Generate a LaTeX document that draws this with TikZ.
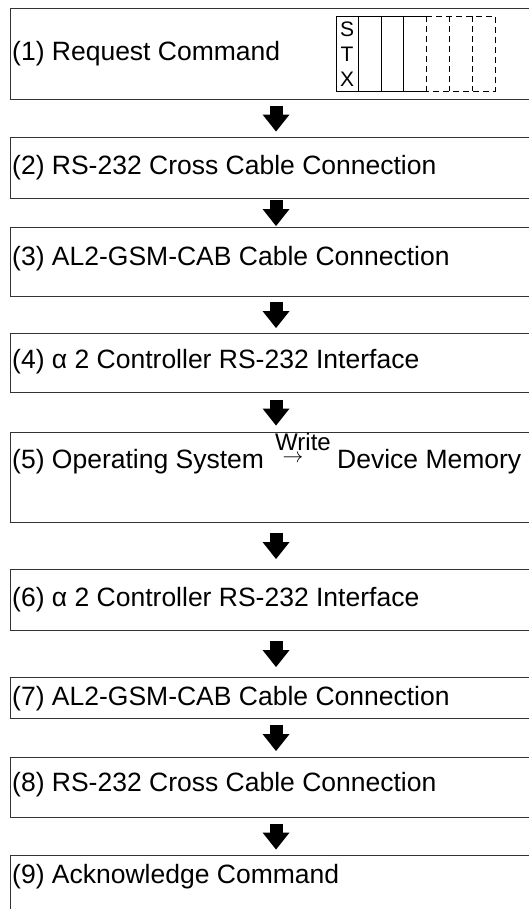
\documentclass[tikz,border=0pt]{standalone}
\usepackage{fontspec}
\setmainfont{Liberation Sans}
\usetikzlibrary{arrows.meta, positioning, calc}

\tikzset{
  stage/.style={draw=black!80, line width=1.1pt, anchor=north west,
                minimum width=540pt, inner sep=0pt},
  caption/.style={anchor=west, inner sep=0pt, font=\fontsize{26.5}{30}\selectfont},
  flow/.style={line width=13pt,
               -{Triangle[width=27pt, length=17pt, line width=0pt]}},
  cell/.style={line width=0.8pt},
  halfcell/.style={cell, dash pattern=on 6pt off 4pt}
}

\begin{document}
\begin{tikzpicture}[x=1pt, y=-1pt]
  \useasboundingbox (0,0) rectangle (529,909);
  \clip (0,0) rectangle (529,909);

  % stages: number / top / height / text offset / text
  \foreach \n/\top/\h/\off/\txt in {
      1/8/91/46/{(1) Request Command},
      2/137/61/31/{(2) RS-232 Cross Cable Connection},
      3/227/69/32/{(3) AL2-GSM-CAB Cable Connection},
      4/333/59/29/{(4) α 2 Controller RS-232 Interface},
      6/569/61/31/{(6) α 2 Controller RS-232 Interface},
      7/677/41/22/{(7) AL2-GSM-CAB Cable Connection},
      8/757/60/28/{(8) RS-232 Cross Cable Connection},
      9/855/80/22/{(9) Acknowledge Command}} {
    \node[stage, minimum height=\h pt] (s\n) at (10,\top) {};
    \node[caption] (t\n) at ($(s\n.north west)+(2,\off)$) {\txt};
  }

  % stage 5, two-part text
  \node[stage, minimum height=90pt] (s5) at (10,432) {};
  \node[caption, anchor=base west] (t5) at ($(s5.north west)+(2,36)$)
       {(5) Operating System};
  \node[inner sep=0pt, font=\fontsize{20}{20}\selectfont] (wto) at (293,462)
       {\smash{$\rightarrow$}};
  \node[caption, anchor=base, font=\fontsize{24}{24}\selectfont] (wlab)
       at (303,450) {Write};
  \node[caption, anchor=base west] (mem) at (337,468) {Device Memory};

  % STX frame
  \draw[cell] (426,16) -- (336,16) -- (336,91) -- (426,91);
  \foreach \x in {358,381,403}
    \draw[cell] (\x,16) -- (\x,91);
  \draw[halfcell] (426,16) -- (495,16) -- (495,91) -- (426,91);
  \foreach \x in {426,449,472}
    \draw[halfcell] (\x,16) -- (\x,91);
  \node[align=center, inner sep=0pt, font=\fontsize{21}{25}\selectfont]
       (stx) at (347,54) {S\\T\\X};

  % flow arrows, centred in each gap
  \foreach \a/\b in {1/2,2/3,3/4,4/5,5/6,6/7,7/8,8/9} {
    \coordinate (m\a) at ($(s\a.south)!0.5!(s\b.north)+(-4.5,0)$);
    \draw[flow] ($(m\a)+(0,-13)$) -- ($(m\a)+(0,13)$);
  }
\end{tikzpicture}
\end{document}
